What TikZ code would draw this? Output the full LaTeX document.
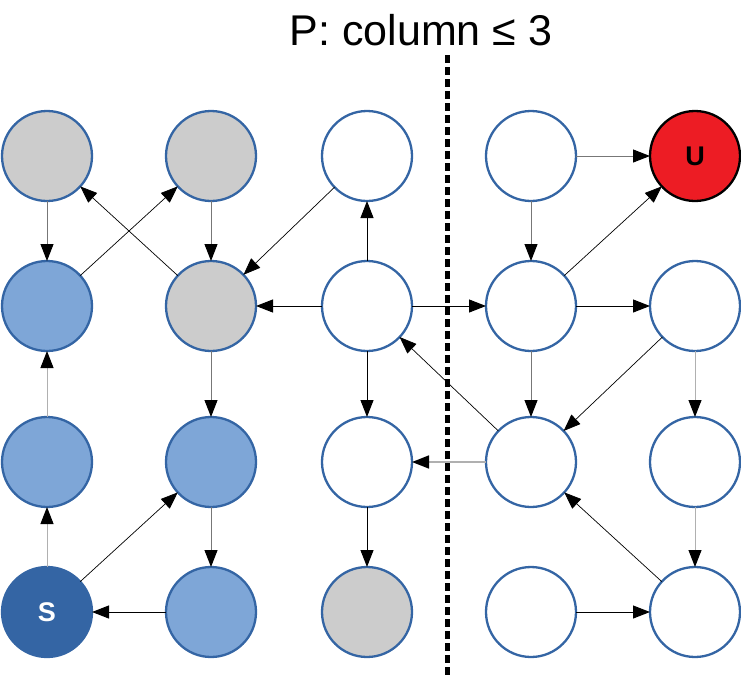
\documentclass[tikz,border=0pt]{standalone}
\usepackage{fontspec}
\setmainfont{Liberation Sans}
\usetikzlibrary{arrows.meta}
\definecolor{bordblue}{HTML}{3465A4}
\definecolor{lightblue}{HTML}{7EA6D7}
\definecolor{darkblue}{HTML}{3465A4}
\definecolor{nodegray}{HTML}{CCCCCC}
\definecolor{ured}{HTML}{ED1C24}
\definecolor{edgegray}{HTML}{777777}
\definecolor{edgelight}{HTML}{B0B0B0}
\newcommand{\lblfont}{\fontsize{27}{31}\selectfont\bfseries}
\tikzset{
  st/.style={circle, minimum size=90pt, inner sep=0pt, outer sep=0pt, draw=bordblue, line width=2.3pt, fill=white},
  grayst/.style={st, fill=nodegray},
  lbst/.style={st, fill=lightblue},
  sst/.style={st, fill=darkblue, text=white},
  ust/.style={st, fill=ured, draw=black},
  edge/.style={-{Triangle[length=17pt,width=13pt,color=black]}, line width=1pt, black},
  gedge/.style={edge, draw=edgegray},
  ledge/.style={edge, draw=edgelight},
  tedge/.style={edge, line width=0.7pt},
}
\begin{document}
\begin{tikzpicture}[x=1pt,y=-1pt]
\useasboundingbox (0,0) rectangle (741,675);
% title
\node[anchor=base, font=\fontsize{43}{50}\selectfont, inner sep=0pt] (title) at (421,45) {P: column ≤ 3};
% dashed divider
\coordinate (dtop) at (447.5,55);
\coordinate (dbot) at (447.5,675);
\draw[line width=4.2pt, dash pattern=on 8pt off 4pt] (dtop) -- (dbot);
% nodes: row 1
\node[grayst] (a0) at (47,156) {};
\node[grayst] (a1) at (211,156) {};
\node[st] (a2) at (367,156) {};
\node[st] (a3) at (531,156) {};
\node[ust] (a4) at (695,156) {\lblfont U};
% row 2
\node[lbst] (b0) at (47,306) {};
\node[grayst] (b1) at (211,306) {};
\node[st] (b2) at (367,306) {};
\node[st] (b3) at (531,306) {};
\node[st] (b4) at (695,306) {};
% row 3
\node[lbst] (c0) at (47,462) {};
\node[lbst] (c1) at (211,462) {};
\node[st] (c2) at (367,462) {};
\node[st] (c3) at (531,462) {};
\node[st] (c4) at (695,462) {};
% row 4
\node[sst] (d0) at (47,612) {\lblfont S};
\node[lbst] (d1) at (211,612) {};
\node[grayst] (d2) at (367,612) {};
\node[st] (d3) at (531,612) {};
\node[st] (d4) at (695,612) {};
% edges
\draw[gedge] (a0) -- (b0);
\draw[gedge] (a1) -- (b1);
\draw[tedge] (a2) -- (b1);
\draw[gedge] (a3) -- (a4);
\draw[gedge] (a3) -- (b3);
\draw[tedge] (b0) -- (a1);
\draw[tedge] (b1) -- (a0);
\draw[edge] (b2) -- (a2);
\draw[edge] (b2) -- (b1);
\draw[edge] (b2) -- (b3);
\draw[edge] (b2) -- (c2);
\draw[tedge] (b3) -- (a4);
\draw[edge] (b3) -- (b4);
\draw[gedge] (b3) -- (c3);
\draw[tedge] (b4) -- (c3);
\draw[ledge] (b4) -- (c4);
\draw[gedge] (b1) -- (c1);
\draw[ledge] (c0) -- (b0);
\draw[tedge] (c3) -- (b2);
\draw[ledge, line width=1.6pt] (c3) -- (c2);
\draw[gedge] (c1) -- (d1);
\draw[edge] (c2) -- (d2);
\draw[ledge] (d0) -- (c0);
\draw[tedge] (d0) -- (c1);
\draw[edge] (d1) -- (d0);
\draw[edge] (d3) -- (d4);
\draw[tedge] (d4) -- (c3);
\draw[ledge] (c4) -- (d4);
\end{tikzpicture}
\end{document}
